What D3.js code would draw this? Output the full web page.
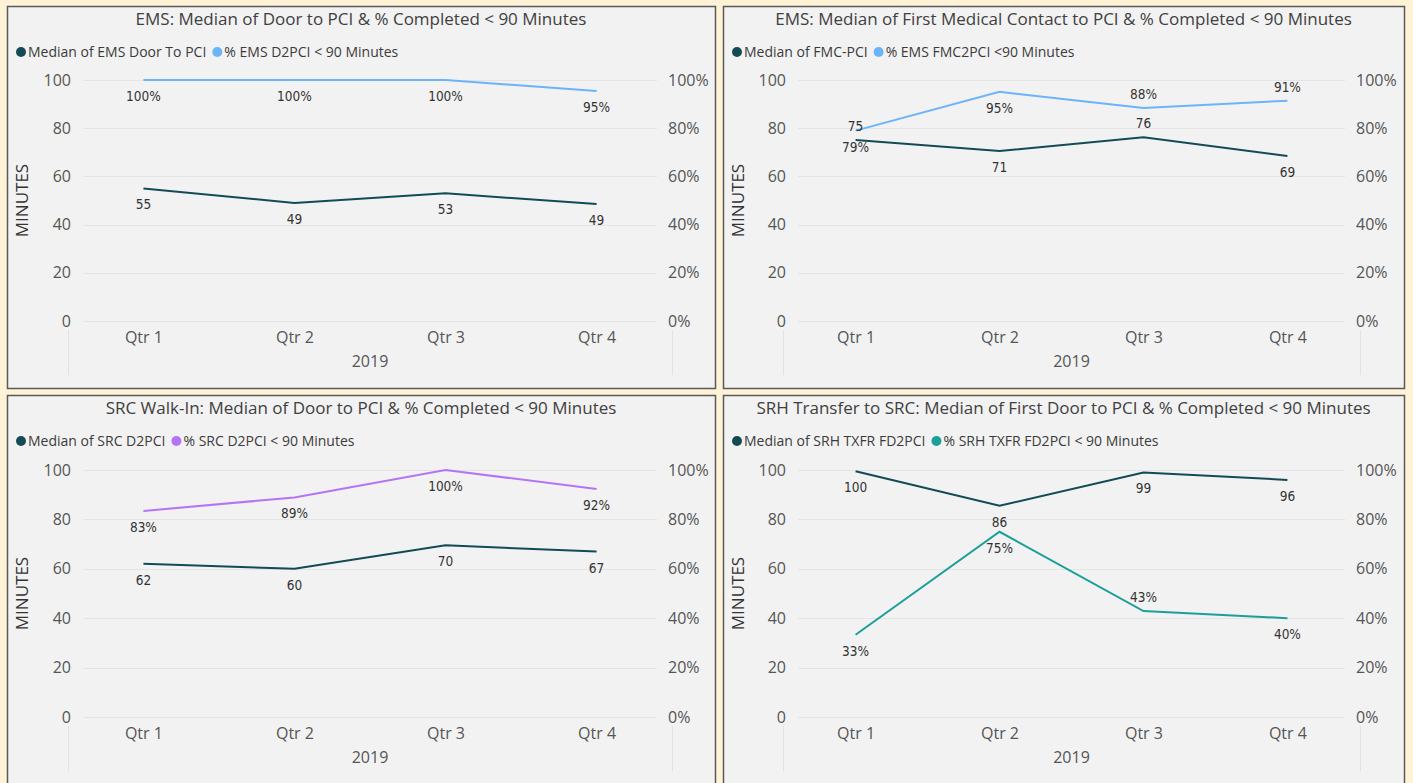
<!DOCTYPE html>
<html><head><meta charset="utf-8">
<script src="https://cdn.jsdelivr.net/npm/d3@7"></script>
<style>
html,body{margin:0;padding:0;background:#FFF3D7;}
svg{display:block;}
</style></head><body>
<svg id="chart" width="1413" height="783"></svg>
<script>
// ---------- data ----------
const quarters = ["Qtr 1", "Qtr 2", "Qtr 3", "Qtr 4"];
const yearLabel = "2019";
const minuteTicks = [0, 20, 40, 60, 80, 100];
const pctTicks = [0, 0.2, 0.4, 0.6, 0.8, 1.0];

const emsD2pciMedian = [55, 49, 53, 48.5];
const emsD2pciPct = [1.00, 1.00, 1.00, 0.954];

const emsFmcMedian = [75.1, 70.5, 76.2, 68.5];
const emsFmcPct = [0.79, 0.951, 0.884, 0.914];

const srcD2pciMedian = [62, 60, 69.5, 67];
const srcD2pciPct = [0.834, 0.889, 1.00, 0.923];

const srhFd2pciMedian = [99.5, 85.5, 99, 96];
const srhFd2pciPct = [0.333, 0.75, 0.429, 0.40];

const titles = [
  "EMS: Median of Door to PCI & % Completed < 90 Minutes",
  "EMS: Median of First Medical Contact to PCI & % Completed < 90 Minutes",
  "SRC Walk-In: Median of Door to PCI & % Completed < 90 Minutes",
  "SRH Transfer to SRC: Median of First Door to PCI & % Completed < 90 Minutes"
];
const medianNames = ["Median of EMS Door To PCI", "Median of FMC-PCI", "Median of SRC D2PCI", "Median of SRH TXFR FD2PCI"];
const pctNames = ["% EMS D2PCI < 90 Minutes", "% EMS FMC2PCI <90 Minutes", "% SRC D2PCI < 90 Minutes", "% SRH TXFR FD2PCI < 90 Minutes"];

// ---------- layout / style ----------
const medianColor = "#134B55";
const pctColors = ["#6CB4FA", "#6CB4FA", "#B574F5", "#1AA09A"];
// label placement: 1 = below point, -1 = above point
const medianLabelSide = [[1,1,1,1],[-1,1,-1,1],[1,1,1,1],[1,1,1,1]];
const pctLabelSide = [[1,1,1,1],[1,1,-1,-1],[1,1,1,1],[1,1,-1,1]];

const panels = [
  {x0:7, x1:715, y0:6, y1:388, gx0:83, gx1:657, gyTop:80, gyBot:321},
  {x0:723, x1:1404, y0:6, y1:388, gx0:798, gx1:1345, gyTop:80, gyBot:321},
  {x0:7, x1:715, y0:395, y1:795, gx0:83, gx1:657, gyTop:470, gyBot:717},
  {x0:723, x1:1404, y0:395, y1:795, gx0:798, gx1:1345, gyTop:470, gyBot:717}
];
const medians = [emsD2pciMedian, emsFmcMedian, srcD2pciMedian, srhFd2pciMedian];
const pcts = [emsD2pciPct, emsFmcPct, srcD2pciPct, srhFd2pciPct];

const uiFont = "'Open Sans','Noto Sans',sans-serif";
const labelFont = "'DejaVu Sans Condensed','DejaVu Sans',sans-serif";

const svg = d3.select("#chart");

panels.forEach((p, i) => {
  const g = svg.append("g");
  g.append("rect").attr("x", p.x0 + 0.5).attr("y", p.y0 + 0.5)
    .attr("width", p.x1 - p.x0).attr("height", p.y1 - p.y0)
    .attr("fill", "#F2F2F2").attr("stroke", "#5a5a5a").attr("stroke-width", 1.5);

  const x = d3.scalePoint().domain(quarters).range([p.gx0, p.gx1]).padding(0.4);
  const y = d3.scaleLinear().domain([0, 100]).range([p.gyBot, p.gyTop]);
  const y2 = d3.scaleLinear().domain([0, 1]).range([p.gyBot, p.gyTop]);

  // title
  g.append("text").attr("x", (p.x0 + p.x1) / 2).attr("y", p.y0 + 18.5)
    .attr("text-anchor", "middle").attr("font-family", uiFont).attr("font-size", 17)
    .attr("fill", "#404040").text(titles[i]);

  // legend
  const lg = g.append("g").attr("transform", `translate(${p.x0 + 9},${p.y0 + 46})`);
  const items = [[medianNames[i], medianColor], [pctNames[i], pctColors[i]]];
  let lx = 0;
  items.forEach(([name, col]) => {
    lg.append("circle").attr("cx", lx + 5).attr("cy", 0).attr("r", 5).attr("fill", col);
    const t = lg.append("text").attr("x", lx + 12).attr("y", 5)
      .attr("font-family", uiFont).attr("font-size", 14).attr("fill", "#3b3b3b").text(name);
    lx += 12 + t.node().getComputedTextLength() + 6;
  });

  // gridlines
  g.append("g").selectAll("line").data(minuteTicks).join("line")
    .attr("x1", p.gx0).attr("x2", p.gx1)
    .attr("y1", d => Math.round(y(d)) + 0.5).attr("y2", d => Math.round(y(d)) + 0.5)
    .attr("stroke", "#e4e4e4").attr("stroke-width", 1);

  // left axis
  const ly = d3.axisLeft(y).tickValues(minuteTicks).tickSize(0).tickPadding(0);
  const la = g.append("g").attr("transform", `translate(${p.gx0 - 12},0)`).call(ly);
  la.select(".domain").remove();
  la.selectAll("text").attr("font-family", uiFont).attr("font-size", 16).attr("fill", "#555");

  // right axis
  const ry = d3.axisRight(y2).tickValues(pctTicks).tickFormat(d3.format(".0%")).tickSize(0).tickPadding(0);
  const ra = g.append("g").attr("transform", `translate(${p.gx1 + 11},0)`).call(ry);
  ra.select(".domain").remove();
  ra.selectAll("text").attr("font-family", uiFont).attr("font-size", 16).attr("fill", "#555");

  // faint vertical axis stubs
  [p.gx0 - 15, p.gx1 + 15].forEach(vx => {
    g.append("line").attr("x1", vx + 0.5).attr("x2", vx + 0.5)
      .attr("y1", p.gyBot + 9).attr("y2", p.gyBot + 54)
      .attr("stroke", "#e2e2e2");
  });

  // x axis
  const xa = g.append("g").attr("transform", `translate(0,${p.gyBot + 8})`)
    .call(d3.axisBottom(x).tickSize(0).tickPadding(3));
  xa.select(".domain").remove();
  xa.selectAll("text").attr("font-family", uiFont).attr("font-size", 16).attr("fill", "#555");

  g.append("text").attr("x", (p.gx0 + p.gx1) / 2).attr("y", p.gyBot + 46)
    .attr("text-anchor", "middle").attr("font-family", uiFont).attr("font-size", 16)
    .attr("fill", "#555").text(yearLabel);

  // y title
  g.append("text")
    .attr("transform", `translate(${p.x0 + 21},${(p.gyTop + p.gyBot) / 2}) rotate(-90)`)
    .attr("text-anchor", "middle").attr("font-family", uiFont).attr("font-size", 17)
    .attr("fill", "#333").text("MINUTES");

  // lines
  const lineM = d3.line().x((d, j) => x(quarters[j])).y(d => y(d));
  const lineP = d3.line().x((d, j) => x(quarters[j])).y(d => y2(d));
  g.append("path").datum(pcts[i]).attr("d", lineP).attr("fill", "none")
    .attr("stroke", pctColors[i]).attr("stroke-width", 2);
  g.append("path").datum(medians[i]).attr("d", lineM).attr("fill", "none")
    .attr("stroke", medianColor).attr("stroke-width", 2);

  // labels
  const fmtM = d => d3.format(".0f")(d);
  const fmtP = d3.format(".0%");
  g.append("g").selectAll("text").data(medians[i]).join("text")
    .attr("x", (d, j) => x(quarters[j]))
    .attr("y", (d, j) => y(d) + (medianLabelSide[i][j] > 0 ? 21 : -9))
    .attr("text-anchor", "middle").attr("font-family", labelFont).attr("font-size", 13.5)
    .attr("fill", "#333").text(fmtM);
  g.append("g").selectAll("text").data(pcts[i]).join("text")
    .attr("x", (d, j) => x(quarters[j]))
    .attr("y", (d, j) => y2(d) + (pctLabelSide[i][j] > 0 ? 21 : -9))
    .attr("text-anchor", "middle").attr("font-family", labelFont).attr("font-size", 13.5)
    .attr("fill", "#333").text(fmtP);
});
</script>
</body></html>
